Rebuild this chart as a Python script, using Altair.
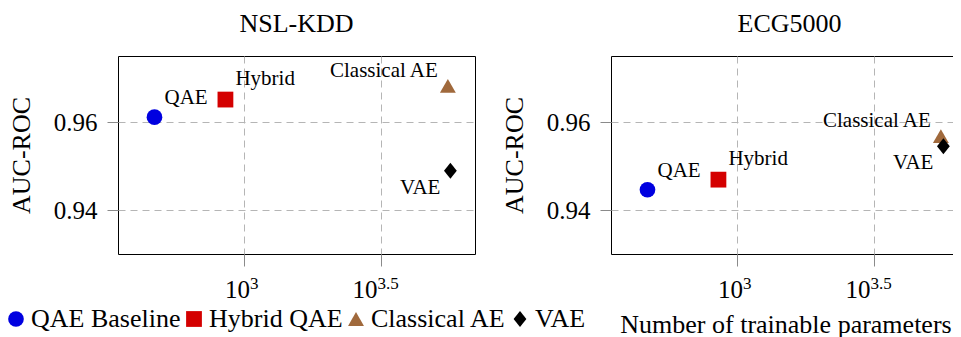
import altair as alt
import pandas as pd

SERIF = "Liberation Serif"

# ---------------- data ----------------
datasets = ["NSL-KDD", "ECG5000"]
models = ["QAE Baseline", "Hybrid QAE", "Classical AE", "VAE"]
short_labels = ["QAE", "Hybrid", "Classical AE", "VAE"]
params = [470, 855, 5580, 5700]
auc_nsl = [0.9611, 0.9651, 0.9682, 0.9489]
auc_ecg = [0.9446, 0.9469, 0.9568, 0.9545]
colors = ["#0000e0", "#d40000", "#a0693c", "#000000"]
shapes = ["circle", "square", "triangle-up", "M0,-1L0.8,0L0,1L-0.8,0Z"]
sizes = [246, 256, 216, 204]
x_ticks = [10 ** 3, 10 ** 3.5]
x_tick_exps = ["3", "3.5"]
y_ticks = [0.94, 0.96]

# ---------------- styling ----------------
W, H = 357, 198
X_DOMAIN = [10 ** 2.5385, 10 ** 3.846]
Y_DOMAIN = [0.93, 0.975]
label_pos = {
    "QAE Baseline": (10, -19, "left"),
    "Hybrid QAE": (10, -21, "left"),
    "Classical AE": (-10, -15, "right"),
    "VAE": (-10, 17, "right"),
}
tick_base_dx = [6, -3]
tick_sup_dx = [6, -3]

xscale = alt.Scale(type="log", domain=X_DOMAIN, nice=False)
yscale = alt.Scale(domain=Y_DOMAIN, nice=False, zero=False)

legend = alt.Legend(
    title=None, orient="none", legendX=-115, legendY=250,
    direction="horizontal", labelFont=SERIF, labelFontSize=26,
    labelColor="black", symbolSize=235, labelOffset=2, columnPadding=0,
    padding=0, symbolStrokeWidth=0, symbolOpacity=1, labelLimit=0,
)


def panel(name, auc, show_xtitle):
    df = pd.DataFrame({
        "model": models,
        "label": short_labels,
        "params": params,
        "auc": auc,
    })
    xaxis = alt.Axis(
        values=x_ticks, labels=False, grid=True, gridDash=[7, 5],
        gridColor="#b5b5b5", tickColor="#8a8a8a", tickSize=12, domain=False,
        title="Number of trainable parameters" if show_xtitle else None,
        titleFont=SERIF, titleFontSize=26, titleFontWeight="normal",
        titleColor="black", titleBaseline="alphabetic", titleY=78,
        titleX=W / 2 - 4,
    )
    yaxis = alt.Axis(
        values=y_ticks, format=".2f", grid=True, gridDash=[7, 5],
        gridColor="#b5b5b5", tickColor="#8a8a8a", tickSize=11, domain=False,
        labelFont=SERIF, labelFontSize=25, labelColor="black", labelPadding=10,
        title="AUC-ROC", titleFont=SERIF, titleFontSize=26,
        titleFontWeight="normal", titleColor="black",
        titleBaseline="alphabetic", titleX=-89, titleY=H / 2,
    )
    xenc = alt.X("params:Q", scale=xscale, axis=xaxis)
    yenc = alt.Y("auc:Q", scale=yscale, axis=yaxis)
    base = alt.Chart(df)
    points = base.mark_point(filled=True, opacity=1).encode(
        x=xenc, y=yenc,
        color=alt.Color("model:N", scale=alt.Scale(domain=models, range=colors), legend=legend),
        shape=alt.Shape("model:N", scale=alt.Scale(domain=models, range=shapes), legend=legend),
        size=alt.Size("model:N", scale=alt.Scale(domain=models, range=sizes), legend=None),
    )
    layers = [points]
    for m in models:
        dx, dy, align = label_pos[m]
        layers.append(
            base.transform_filter(alt.datum.model == m)
            .mark_text(font=SERIF, fontSize=21, color="black", align=align,
                       baseline="middle", dx=dx, dy=dy)
            .encode(x=xenc, y=yenc, text="label:N")
        )
    for i, (tv, ex) in enumerate(zip(x_ticks, x_tick_exps)):
        tdf = pd.DataFrame({"params": [tv], "base": ["10"], "sup": [ex]})
        tb = alt.Chart(tdf)
        layers.append(
            tb.mark_text(font=SERIF, fontSize=25, color="black", align="right",
                         baseline="alphabetic", dx=tick_base_dx[i])
            .encode(x=xenc, y=alt.value(H + 44), text="base:N")
        )
        layers.append(
            tb.mark_text(font=SERIF, fontSize=17, color="black", align="left",
                         baseline="alphabetic", dx=tick_sup_dx[i])
            .encode(x=xenc, y=alt.value(H + 35), text="sup:N")
        )
    return alt.layer(*layers).properties(
        width=W, height=H,
        title=alt.Title(name, font=SERIF, fontSize=26, fontWeight="normal",
                        color="black", anchor="middle", baseline="alphabetic",
                        offset=-2),
    )


left = panel(datasets[0], auc_nsl, False)
right = panel(datasets[1], auc_ecg, True)

chart = alt.hconcat(left, right, spacing=136, bounds="flush").properties(
    padding={"left": -5, "top": 2, "right": -16, "bottom": 0},
    background="white",
).configure_view(stroke="black", strokeWidth=1)

chart.save("out.html", embed_options={"renderer": "svg", "actions": False})
